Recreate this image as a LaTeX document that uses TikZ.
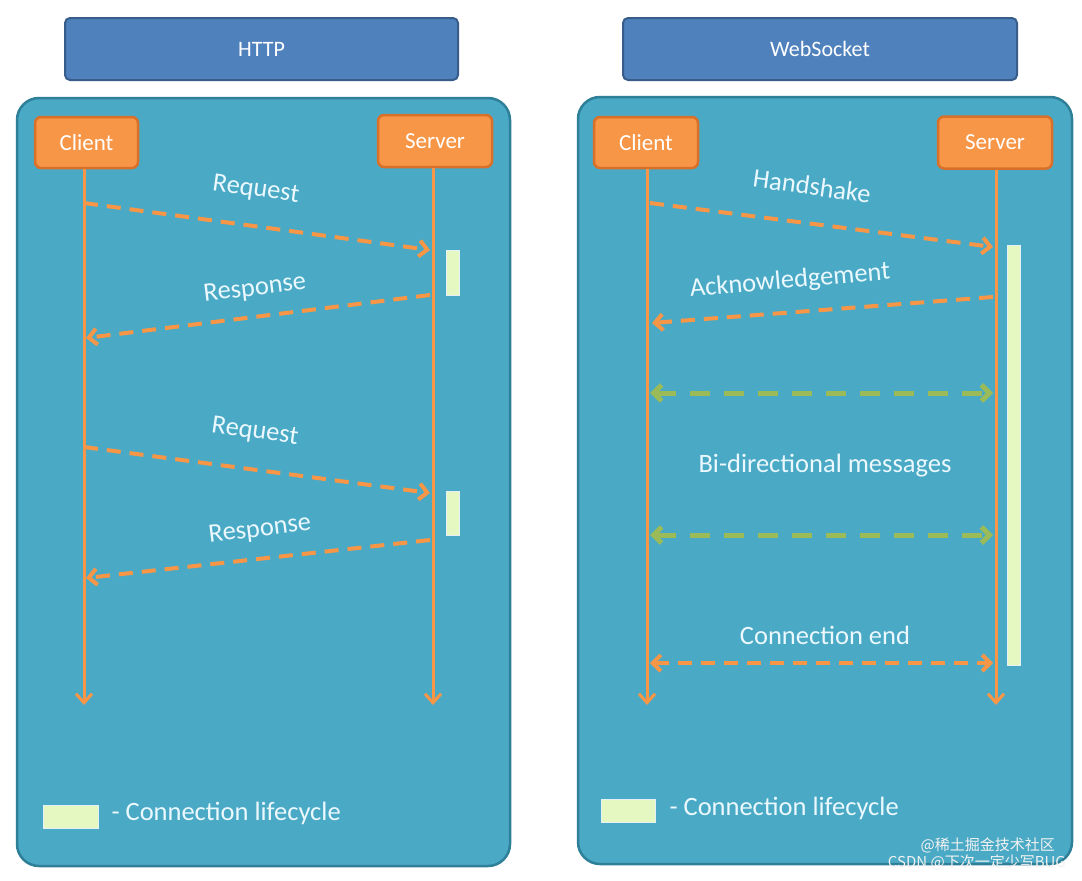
\documentclass[tikz,border=0pt]{standalone}
\usepackage{fontspec}
\setmainfont{Carlito}
\newfontfamily\cjk{Noto Sans CJK SC}
\usetikzlibrary{arrows.meta}
\definecolor{panel}{HTML}{4AAAC6}
\definecolor{panelb}{HTML}{2E7F98}
\definecolor{title}{HTML}{4F81BD}
\definecolor{titleb}{HTML}{385D8A}
\definecolor{org}{HTML}{F79646}
\definecolor{orgb}{HTML}{D9702A}
\definecolor{grn}{HTML}{9BBB59}
\definecolor{life}{HTML}{E6F8C2}
\tikzset{
 panelbox/.style={draw=panelb,line width=2.5pt,fill=panel,rounded corners=22pt},
 titlebox/.style={draw=titleb,line width=2pt,fill=title,rounded corners=5pt,text=white,font=\fontsize{22}{26}\selectfont},
 actor/.style={draw=orgb,line width=2.5pt,fill=org,rounded corners=6pt,text=white,font=\fontsize{23}{27}\selectfont,inner sep=0pt},
 life/.style={draw=org,line width=3pt,-{Straight Barb[length=9pt,width=16pt]}},
 msg/.style={draw=org,line width=4pt,dash pattern=on 14pt off 9pt,-{Straight Barb[length=8pt,width=16pt]}},
 bmsg/.style={msg,{Straight Barb[length=8pt,width=16pt]}-{Straight Barb[length=8pt,width=16pt]}},
 gmsg/.style={bmsg,draw=grn,line width=5pt,dash pattern=on 20pt off 14pt},
 lbl/.style={text=white!92!cyan,font=\fontsize{26.5}{30}\selectfont},
 bar/.style={draw=white!85!panel,fill=life,line width=0.5pt},
}
\begin{document}
\begin{tikzpicture}[x=1pt,y=-1pt]
\useasboundingbox (0,0) rectangle (1082,881);
\fill[white] (0,0) rectangle (1082,881);
% left panel
\draw[panelbox] (17,98) rectangle (510,866);
\node[titlebox,minimum width=393pt,minimum height=62pt] (httpT) at (261.5,49) {HTTP};
\node[actor,minimum width=103pt,minimum height=51pt] (c1) at (86.5,142.5) {Client};
\node[actor,minimum width=114pt,minimum height=52pt] (s1) at (435,141) {Server};
\coordinate (c1e) at (84,705); \coordinate (s1e) at (433,705);
\draw[life] (c1.south -| c1e) -- (c1e);
\draw[life] (s1.south -| s1e) -- (s1e);
\coordinate (a1) at (84,203); \coordinate (b1) at (430,250);
\coordinate (a2) at (430,295); \coordinate (b2) at (86,338);
\coordinate (a3) at (84,447); \coordinate (b3) at (430,493);
\coordinate (a4) at (430,540); \coordinate (b4) at (86,578);
\draw[msg] (a1) -- (b1);
\draw[msg] (a2) -- (b2);
\draw[msg] (a3) -- (b3);
\draw[msg] (a4) -- (b4);
\node[lbl,rotate=-8] (l1) at (256,190) {Request};
\node[lbl,rotate=7] (l2) at (255,289) {Response};
\node[lbl,rotate=-8] (l3) at (255,432) {Request};
\node[lbl,rotate=7] (l4) at (260,530) {Response};
\draw[bar] (446,250) rectangle (459,295);
\draw[bar] (446,491) rectangle (459,535);
\draw[bar] (43,805) rectangle (98,828);
\node[lbl,anchor=west] (lg1) at (108,813) {- Connection lifecycle};
% right panel
\draw[panelbox] (578,97) rectangle (1072,864);
\node[titlebox,minimum width=394pt,minimum height=62pt] (wsT) at (820,49) {WebSocket};
\node[actor,minimum width=104pt,minimum height=51pt] (c2) at (646,142.5) {Client};
\node[actor,minimum width=114pt,minimum height=52pt] (s2) at (995,142.5) {Server};
\coordinate (c2e) at (647,705); \coordinate (s2e) at (996,705);
\draw[life] (c2.south -| c2e) -- (c2e);
\draw[life] (s2.south -| s2e) -- (s2e);
\draw[bar] (1007,245) rectangle (1020,665);
\coordinate (h1) at (650,203); \coordinate (h2) at (993,247);
\coordinate (k1) at (993,297); \coordinate (k2) at (652,323);
\coordinate (g1) at (650,393); \coordinate (g2) at (993,393);
\coordinate (g3) at (650,535); \coordinate (g4) at (993,535);
\coordinate (e1) at (650,663); \coordinate (e2) at (993,663);
\draw[msg] (h1) -- (h2);
\draw[msg] (k1) -- (k2);
\draw[gmsg] (g1) -- (g2);
\draw[gmsg] (g3) -- (g4);
\draw[bmsg] (e1) -- (e2);
\node[lbl,rotate=-8] (l5) at (812,186) {Handshake};
\node[lbl,rotate=5] (l6) at (790,281) {Acknowledgement};
\node[lbl] (l7) at (825,466) {Bi-directional messages};
\node[lbl] (l8) at (825,635) {Connection end};
\draw[bar] (601,799) rectangle (655,822);
\node[lbl,anchor=west] (lg2) at (666,808) {- Connection lifecycle};
\node[anchor=east,text=white!90!gray,font=\cjk\fontsize{15}{17}\selectfont,inner sep=0pt] (wm1) at (1055,845) {@稀土掘金技术社区};
\node[anchor=east,text=white!90!gray,font=\cjk\fontsize{15}{17}\selectfont,inner sep=0pt] (wm2) at (1066,862) {CSDN @下次一定少写BUG};
\end{tikzpicture}
\end{document}
